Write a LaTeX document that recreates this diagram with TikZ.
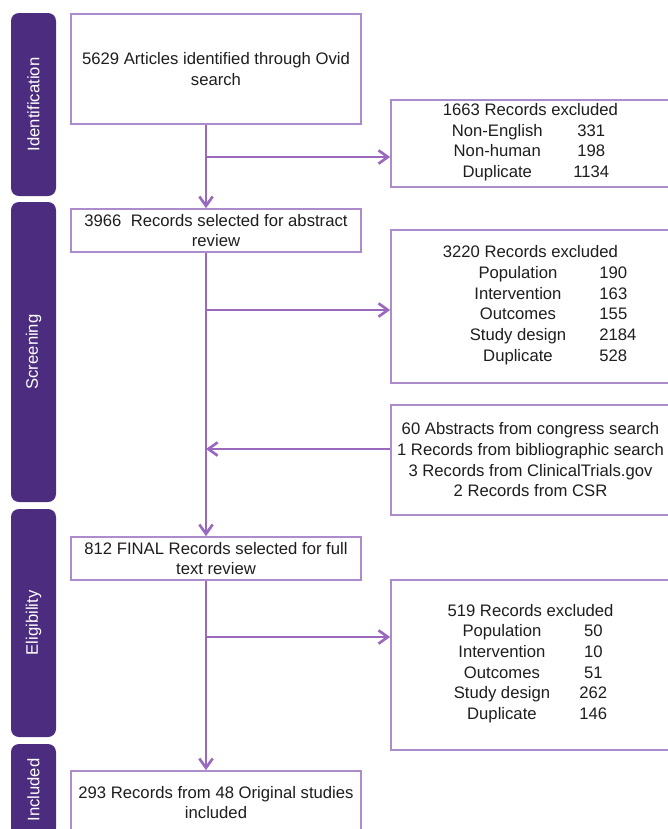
\documentclass[tikz,border=0pt]{standalone}
\usepackage{fontspec}
\setmainfont{Liberation Sans}
\usetikzlibrary{arrows.meta,positioning}

\definecolor{phasepurple}{RGB}{76,44,126}
\definecolor{boxpurple}{RGB}{172,140,204}
\definecolor{arrowpurple}{RGB}{154,104,190}
\definecolor{textgray}{RGB}{30,30,30}

\begin{document}
\begin{tikzpicture}[
    x=0.75pt, y=-0.75pt,
    font=\fontsize{12.5}{15.5}\selectfont,
    box/.style={
        rectangle,
        draw=boxpurple,
        line width=1.3pt,
        fill=white,
        text=textgray,
        inner sep=2pt,
        minimum width=217.5pt,
        align=center
    },
    sidebox/.style={
        box,
        minimum width=209.25pt
    },
    phase/.style={
        rectangle,
        fill=phasepurple,
        text=white,
        rounded corners=6pt,
        rotate=90,
        minimum height=33.75pt
    },
    arrow/.style={
        -{Straight Barb[length=7pt,width=10pt]},
        line width=2pt,
        arrowpurple
    }
]
\useasboundingbox (0,0) rectangle (668,829);

% Phase bars
\node[phase, minimum width=137.25pt] (identification) at (33.5,104.5) {Identification};
\node[phase, minimum width=225pt] (screening) at (33.5,352) {Screening};
\node[phase, minimum width=171pt] (eligibility) at (33.5,623) {Eligibility};
\node[phase, minimum width=69pt] (inclusion) at (33.5,790) {Included};

% Main stages
\node[box, minimum height=82.5pt] (articles) at (216,69) {
    5629 Articles identified through Ovid\\search
};
\node[box, minimum height=32.25pt] (abstracts) at (216,230.5) {
    3966~~Records selected for abstract\\review
};
\node[box, minimum height=32.25pt] (fulltext) at (216,558.5) {
    812 FINAL Records selected for full\\text review
};
\node[box, minimum height=47.25pt] (included) at (216,802.5) {
    293 Records from 48 Original studies\\included
};

% Exclusions and additions
\node[sidebox, minimum height=65.25pt] (excl1) at (530.5,143.5) {
    1663 Records excluded\\
    \begin{tabular}[t]{@{}c@{\hspace{23pt}}c@{}}
        Non-English & 331\\
        Non-human & 198\\
        Duplicate & 1134
    \end{tabular}
};
\node[sidebox, minimum height=114.75pt] (excl2) at (530.5,306.5) {
    3220 Records excluded\\
    \begin{tabular}[t]{@{\hspace{34pt}}c@{\hspace{25pt}}l@{}}
        Population & 190\\
        Intervention & 163\\
        Outcomes & 155\\
        Study design & 2184\\
        Duplicate & 528
    \end{tabular}
};
\node[sidebox, minimum height=82.5pt] (extra) at (530.5,460) {
    60 Abstracts from congress search\\
    1 Records from bibliographic search\\
    3 Records from ClinicalTrials.gov\\
    2 Records from CSR
};
\node[sidebox, minimum height=127.5pt] (excl3) at (530.5,665) {
    519 Records excluded\\
    \begin{tabular}[t]{@{}c@{\hspace{22pt}}c@{}}
        Population & 50\\
        Intervention & 10\\
        Outcomes & 51\\
        Study design & 262\\
        Duplicate & 146
    \end{tabular}
};

% Spine and branch points
\coordinate (spine) at (206,0);
\coordinate (split1) at (206,157);
\coordinate (split2) at (206,310);
\coordinate (merge) at (206,449);
\coordinate (split3) at (206,637);

% Arrows
\draw[arrow] (articles.south -| spine) -- (abstracts.north -| spine);
\draw[arrow] (split1) -- (split1 -| excl1.west);
\draw[arrow] (abstracts.south -| spine) -- (fulltext.north -| spine);
\draw[arrow] (split2) -- (split2 -| excl2.west);
\draw[arrow] (merge -| extra.west) -- (merge);
\draw[arrow] (fulltext.south -| spine) -- (included.north -| spine);
\draw[arrow] (split3) -- (split3 -| excl3.west);

\end{tikzpicture}
\end{document}
